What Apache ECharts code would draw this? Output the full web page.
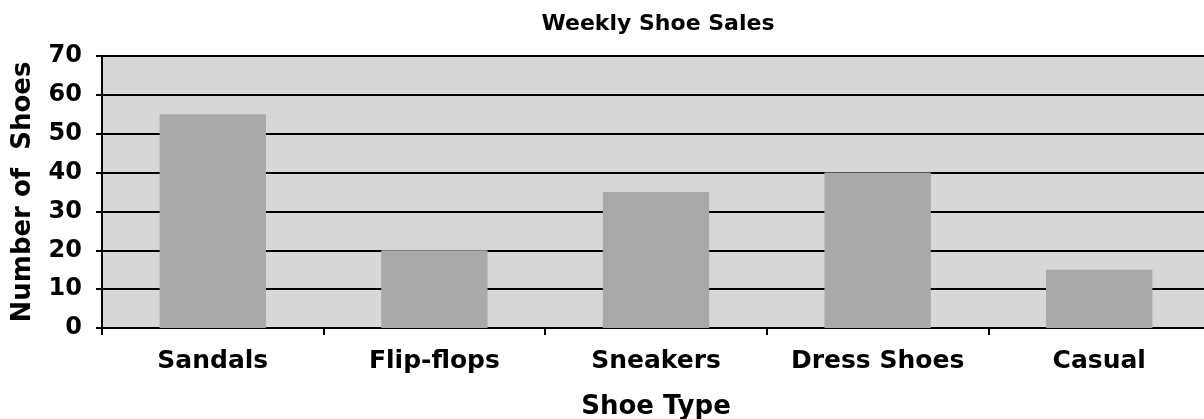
<!DOCTYPE html>
<html>
<head>
<meta charset="utf-8">
<title>Weekly Shoe Sales</title>
<script src="https://cdn.jsdelivr.net/npm/echarts@6/dist/echarts.min.js"></script>
<style>
  html, body { margin: 0; padding: 0; background: #fff; overflow: hidden; }
  #chart { width: 1210px; height: 419px; }
</style>
</head>
<body>
<div id="chart"></div>
<script>
  // chart data
  const categories = ['Sandals', 'Flip-flops', 'Sneakers', 'Dress Shoes', 'Casual'];
  const shoeCounts = [55, 20, 35, 40, 15];
  const yTicks = [0, 10, 20, 30, 40, 50, 60, 70];

  const font = 'DejaVu Sans, Verdana, sans-serif';

  const chart = echarts.init(document.getElementById('chart'));
  chart.setOption({
    animation: false,
    backgroundColor: '#ffffff',
    title: {
      text: 'Weekly Shoe Sales',
      left: 653,
      top: 8,
      textAlign: 'center',
      textStyle: { fontFamily: font, fontWeight: 'bold', fontSize: 22, color: '#000' }
    },
    grid: {
      left: 102,
      right: 0,
      top: 56,
      bottom: 91,
      outerBoundsMode: 'none',
      containLabel: false,
      show: true,
      backgroundColor: '#d7d7d7',
      borderWidth: 0
    },
    xAxis: {
      type: 'category',
      data: categories,
      name: 'Shoe Type',
      nameLocation: 'middle',
      nameGap: 66,
      nameTextStyle: { fontFamily: font, fontWeight: 'bold', fontSize: 26, color: '#000' },
      axisLine: { lineStyle: { color: '#000', width: 2 } },
      axisTick: { show: true, length: 7, lineStyle: { color: '#000', width: 2 } },
      axisLabel: { interval: 0, margin: 21, fontFamily: font, fontWeight: 'bold', fontSize: 25, color: '#000' }
    },
    yAxis: {
      type: 'value',
      min: yTicks[0],
      max: yTicks[yTicks.length - 1],
      interval: 10,
      name: 'Number of  Shoes',
      nameLocation: 'middle',
      nameGap: 66,
      nameTextStyle: { fontFamily: font, fontWeight: 'bold', fontSize: 26, color: '#000' },
      axisLine: { show: true, lineStyle: { color: '#000', width: 2 } },
      axisTick: { show: true, length: 6, lineStyle: { color: '#000', width: 2 } },
      axisLabel: { margin: 20, fontFamily: font, fontWeight: 'bold', fontSize: 24, color: '#000' },
      splitLine: { show: true, lineStyle: { color: '#000', width: 2 } }
    },
    series: [{
      type: 'bar',
      data: shoeCounts,
      barWidth: '48%',
      itemStyle: { color: '#a9a9a9' }
    }]
  });
</script>
</body>
</html>
